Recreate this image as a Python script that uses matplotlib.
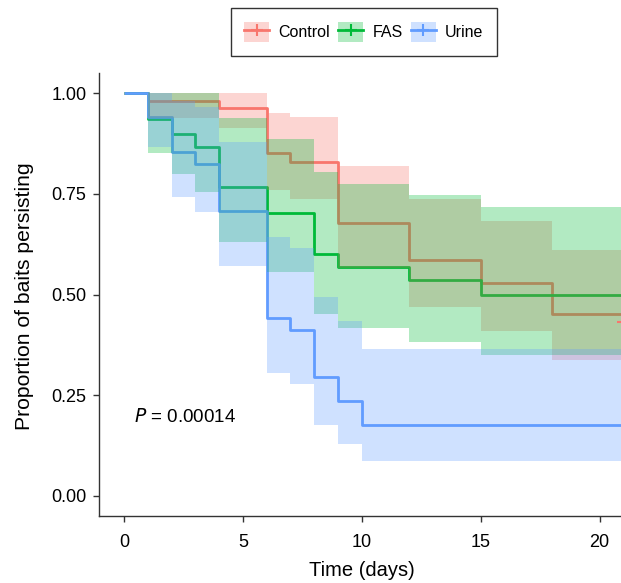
import numpy as np
import matplotlib
matplotlib.use("Agg")
import matplotlib.pyplot as plt
from matplotlib.patches import Patch
from matplotlib.lines import Line2D
from matplotlib.legend_handler import HandlerTuple

plt.rcParams['font.family'] = ['Liberation Sans', 'DejaVu Sans']

# ---------------- data ----------------
groups = ["Control", "FAS", "Urine"]
colors = ["#F8766D", "#00BA38", "#619CFF"]
study_end = 21

control_t = [0, 1, 4, 6, 7, 9, 12, 15, 18, 21]
control_s = [1.0, 0.981, 0.963, 0.851, 0.830, 0.678, 0.587, 0.528, 0.453, 0.432]
control_hi = [1.0, 1.0, 1.0, 0.952, 0.940, 0.819, 0.737, 0.683, 0.611, 0.59]
control_lo = [1.0, 0.938, 0.913, 0.760, 0.737, 0.565, 0.470, 0.410, 0.337, 0.31]
control_cens_t = [21]
control_cens_s = [0.432]

fas_t = [0, 1, 2, 3, 4, 6, 8, 9, 12, 15]
fas_s = [1.0, 0.935, 0.898, 0.867, 0.768, 0.702, 0.601, 0.568, 0.536, 0.50]
fas_hi = [1.0, 1.0, 1.0, 1.0, 0.938, 0.886, 0.805, 0.775, 0.747, 0.718]
fas_lo = [1.0, 0.851, 0.800, 0.754, 0.631, 0.555, 0.452, 0.416, 0.383, 0.350]

urine_t = [0, 1, 2, 3, 4, 6, 7, 8, 9, 10]
urine_s = [1.0, 0.941, 0.855, 0.824, 0.708, 0.442, 0.412, 0.296, 0.235, 0.177]
urine_hi = [1.0, 1.0, 0.98, 0.965, 0.878, 0.644, 0.615, 0.495, 0.434, 0.366]
urine_lo = [1.0, 0.867, 0.743, 0.706, 0.571, 0.304, 0.278, 0.176, 0.130, 0.087]

x_ticks = [0, 5, 10, 15, 20]
y_ticks = [0.0, 0.25, 0.50, 0.75, 1.0]
y_ticklabels = ["0.00", "0.25", "0.50", "0.75", "1.00"]
p_text = "0.00014"

series = [
    (control_t, control_s, control_hi, control_lo),
    (fas_t, fas_s, fas_hi, fas_lo),
    (urine_t, urine_s, urine_hi, urine_lo),
]

# ---------------- figure ----------------
W, H = 621, 583
fig = plt.figure(figsize=(W / 100, H / 100), dpi=100)
ax = fig.add_axes([99 / W, 67 / H, 1 - 99 / W, (516 - 73.2) / H])

def ext(t, v):
    t = list(t)
    v = list(v)
    if t[-1] < study_end:
        t = t + [study_end]
        v = v + [v[-1]]
    return np.array(t, float), np.array(v, float)

# lines first (ggplot order), ribbons on top
for (t, s, hi, lo), c in zip(series, colors):
    tx, sx = ext(t, s)
    ax.step(tx, sx, where='post', color=c, lw=2.0, zorder=2, solid_capstyle='butt')
for (t, s, hi, lo), c in zip(series, colors):
    tx, hx = ext(t, hi)
    _, lx = ext(t, lo)
    ax.fill_between(tx, lx, hx, step='post', color=c, alpha=0.3, lw=0, zorder=3)

ax.plot(control_cens_t, control_cens_s, ls='none', marker='+', ms=9, mew=1.5,
        color=colors[0], zorder=4, clip_on=True)

ax.text(0.42, 0.196, r"$\it{P}$ = " + p_text, fontsize=13.5, ha='left', va='center')

ax.set_xlim(-1.05, 20.9)
ax.set_ylim(-0.05, 1.05)
ax.set_xticks(x_ticks)
ax.set_yticks(y_ticks)
ax.set_yticklabels(y_ticklabels)
for sp in ['top', 'right']:
    ax.spines[sp].set_visible(False)
for sp in ['left', 'bottom']:
    ax.spines[sp].set_color('#333333')
    ax.spines[sp].set_linewidth(1.0)
ax.tick_params(axis='both', length=4, width=1.0, color='#333333', labelsize=13,
               labelcolor='black')
ax.tick_params(axis='x', pad=9)
ax.tick_params(axis='y', pad=5)

fig.text(362 / W, 1 - 571 / H, "Time (days)", fontsize=14.5, ha='center', va='center')
fig.text(25 / W, 1 - 296 / H, "Proportion of baits persisting", fontsize=15.2,
         ha='center', va='center', rotation=90)

handles = []
for c in colors:
    handles.append((Patch(facecolor=c, alpha=0.3, edgecolor='none'),
                    Line2D([], [], color=c, lw=2.0, marker='+', ms=8, mew=1.5)))
leg = fig.legend(handles, groups, loc='center', bbox_to_anchor=(364 / W, 1 - 32 / H),
                 ncol=3, fontsize=11.5, frameon=True, fancybox=False,
                 handler_map={tuple: HandlerTuple(ndivide=1, pad=0)},
                 handlelength=1.55, handleheight=1.55, handletextpad=0.6,
                 columnspacing=0.5, borderpad=0.85, borderaxespad=0)
leg.get_frame().set_edgecolor('black')
leg.get_frame().set_linewidth(1.0)

fig.savefig("out.png", dpi=100)
